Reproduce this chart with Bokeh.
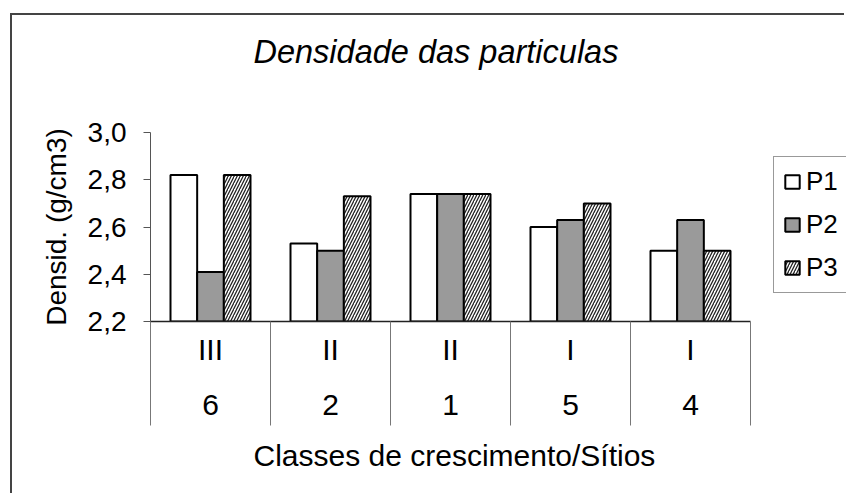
from bokeh.plotting import figure
from bokeh.models import (Range1d, LinearAxis, FixedTicker, CustomJSTickFormatter,
                          Legend, LegendItem, ColumnDataSource, Title)
from bokeh.embed import file_html
from bokeh.resources import INLINE

# ---- data ----
classes = ["III", "II", "II", "I", "I"]
sites = ["6", "2", "1", "5", "4"]
p1 = [2.82, 2.53, 2.74, 2.60, 2.50]
p2 = [2.41, 2.50, 2.74, 2.63, 2.63]
p3 = [2.82, 2.73, 2.74, 2.70, 2.50]
series_names = ["P1", "P2", "P3"]
y_ticks = [2.2, 2.4, 2.6, 2.8, 3.0]
y_min, y_max = 2.2, 3.0

FONT = "Liberation Sans"
n = len(sites)
centers = [i + 0.5 for i in range(n)]
bounds = list(range(n + 1))
bw = 1.0 / 4.5
offsets = [-bw, 0.0, bw]
x_extra = 0.8   # empty room right of the categories, where the legend sits

p = figure(width=834, height=480, x_range=Range1d(0, n + x_extra), y_range=Range1d(y_min, y_max),
           output_backend="svg", toolbar_location=None,
           x_axis_type=None, y_axis_type=None,
           min_border_left=138, min_border_right=0, min_border_top=117, min_border_bottom=174)
p.outline_line_color = None
p.xgrid.visible = False
p.ygrid.visible = False
p.background_fill_color = "white"
p.border_fill_color = "white"
p.styles = {"margin-left": "10px", "margin-top": "13px",
            "border-left": "2px solid #444", "border-top": "2px solid #444"}

# title
p.title.text = "Densidade das particulas"
p.title.text_font = FONT
p.title.text_font_size = "32.5px"
p.title.text_font_style = "italic"
p.title.text_color = "black"
p.title.align = "left"
p.title.offset = 103
p.title.standoff = 10

# spacer between title and frame
spacer = Title(text=" ", text_font_size="50px", standoff=0)
p.add_layout(spacer, "above")

# y axis
yaxis = LinearAxis(ticker=FixedTicker(ticks=y_ticks),
                   formatter=CustomJSTickFormatter(code="return tick.toFixed(1).replace('.', ',')"))
yaxis.axis_label = "Densid. (g/cm3)"
yaxis.axis_label_text_font = FONT
yaxis.axis_label_text_font_size = "28px"
yaxis.axis_label_text_font_style = "normal"
yaxis.axis_label_text_color = "black"
yaxis.axis_label_standoff = 13
yaxis.major_label_text_font = FONT
yaxis.major_label_text_font_size = "28px"
yaxis.major_label_text_color = "black"
yaxis.major_label_standoff = 17
yaxis.major_tick_out = 7
yaxis.major_tick_in = 0
yaxis.major_tick_line_color = "#555"
yaxis.axis_line_color = "#555"
yaxis.axis_line_width = 1
p.add_layout(yaxis, "left")

# x axis level 1 (classes) with category separators
ax1 = LinearAxis(ticker=FixedTicker(ticks=centers, minor_ticks=bounds),
                 formatter=CustomJSTickFormatter(args=dict(labels=classes),
                                                 code="return labels[Math.floor(tick)]"))
ax1.bounds = (0, n)
ax1.major_tick_out = 0
ax1.major_tick_in = 0
ax1.major_tick_line_color = None
ax1.minor_tick_out = 104
ax1.minor_tick_in = 0
ax1.minor_tick_line_color = "#777"
ax1.minor_tick_line_width = 1
ax1.axis_line_color = "#222"
ax1.axis_line_width = 1.5
ax1.major_label_text_font = FONT
ax1.major_label_text_font_size = "30px"
ax1.major_label_text_color = "black"
ax1.major_label_standoff = -93
p.add_layout(ax1, "below")

# x axis level 2 (sites)
ax2 = LinearAxis(ticker=FixedTicker(ticks=centers),
                 formatter=CustomJSTickFormatter(args=dict(labels=sites),
                                                 code="return labels[Math.floor(tick)]"))
ax2.bounds = (0, n)
ax2.axis_line_color = None
ax2.major_tick_line_color = None
ax2.minor_tick_line_color = None
ax2.major_tick_out = 0
ax2.major_tick_in = 0
ax2.major_label_text_font = FONT
ax2.major_label_text_font_size = "30px"
ax2.major_label_text_color = "black"
ax2.major_label_standoff = 26
ax2.axis_label = " "
ax2.axis_label_text_font_size = "10px"
ax2.axis_label_standoff = 2
p.add_layout(ax2, "below")

# x axis title, placed under the category block
xtitle = Title(text="Classes de crescimento/Sítios", text_font=FONT, text_font_size="30px",
               text_font_style="normal", text_color="black", align="left", offset=103,
               vertical_align="top", standoff=10)
p.add_layout(xtitle, "below")

# bars
styles = [
    dict(fill_color="white"),
    dict(fill_color="#9a9a9a"),
    dict(fill_color="white", hatch_pattern="/", hatch_color="#222", hatch_scale=6, hatch_weight=1.3),
]
renderers = []
for vals, off, st in zip([p1, p2, p3], offsets, styles):
    src = ColumnDataSource(dict(x=[c + off for c in centers], top=vals))
    r = p.vbar(x="x", top="top", bottom=y_min, width=bw, source=src,
               line_color="black", line_width=2, **st)
    renderers.append(r)

legend = Legend(items=[LegendItem(label=nm, renderers=[r]) for nm, r in zip(series_names, renderers)],
                location=(623, 28))
legend.label_text_font = FONT
legend.label_text_font_size = "26px"
legend.label_text_color = "black"
legend.glyph_width = 18
legend.glyph_height = 17
legend.label_standoff = 5
legend.padding = 9
legend.spacing = 12
legend.margin = 0
legend.border_line_color = "#333"
legend.border_line_width = 1.5
legend.background_fill_color = "white"
legend.background_fill_alpha = 1
p.add_layout(legend, "center")

open("out.html", "w").write(file_html(p, INLINE))
